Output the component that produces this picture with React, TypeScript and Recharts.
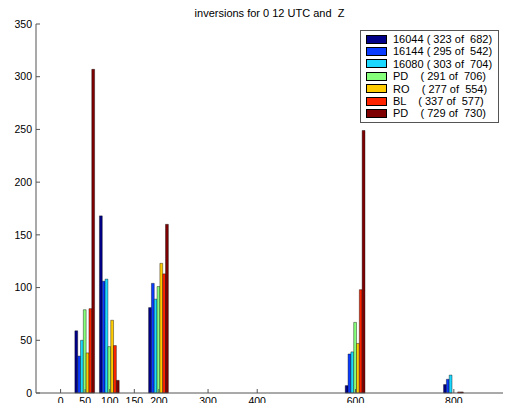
import React from 'react';
import { BarChart, Bar, XAxis, YAxis } from 'recharts';

const positions = [50, 100, 200, 600, 800];
const s16044 = [59, 168, 81, 7, 8];
const s16144 = [35, 106, 104, 37, 13];
const s16080 = [50, 108, 89, 39, 17];
const sPD1 = [79, 44, 101, 67, 0];
const sRO = [38, 69, 123, 47, 0];
const sBL = [80, 45, 113, 98, 1];
const sPD2 = [307, 12, 160, 249, 1];

const seriesNames = [
  '16044 ( 323 of  682)',
  '16144 ( 295 of  542)',
  '16080 ( 303 of  704)',
  'PD    ( 291 of  706)',
  'RO    ( 277 of  554)',
  'BL    ( 337 of  577)',
  'PD    ( 729 of  730)',
];
const seriesColors = ['#000088', '#0a3cff', '#1ad8ff', '#86ff7a', '#ffcc00', '#ff2400', '#7f0000'];
const seriesValues = [s16044, s16144, s16080, sPD1, sRO, sBL, sPD2];

const xTicks = [0, 50, 100, 150, 200, 300, 400, 600, 800];
const yTicks = [0, 50, 100, 150, 200, 250, 300, 350];
const title = 'inversions for 0 12 UTC and  Z';

const data = positions.map((x, i) => {
  const row: Record<string, number> = { x };
  seriesValues.forEach((vals, k) => {
    row['s' + k] = vals[i];
  });
  return row;
});

const font = 'Arial, "Liberation Sans", Helvetica, sans-serif';
const axisColor = '#555';

export default function App() {
  return (
    <div style={{ position: 'fixed', left: 0, top: 0, width: 506, height: 403, background: '#fff', overflow: 'hidden' }}>
      <BarChart
        width={506}
        height={403}
        data={data}
        margin={{ top: 24, right: 3, left: 6, bottom: 0 }}
        barGap={0}
        style={{ fontFamily: font }}
      >
        <XAxis
          dataKey="x"
          type="number"
          domain={[-50, 900]}
          ticks={xTicks}
          interval={0}
          height={10}
          tickSize={-4}
          tickMargin={9}
          stroke={axisColor}
          tick={{ fill: '#000', fontSize: 10.5 }}
        />
        <XAxis
          xAxisId="top"
          orientation="top"
          dataKey="x"
          type="number"
          domain={[-50, 900]}
          ticks={xTicks}
          interval={0}
          height={0}
          tickSize={-4}
          tick={false}
          stroke={axisColor}
        />
        <YAxis
          domain={[0, 350]}
          ticks={yTicks}
          interval={0}
          width={30}
          tickSize={-4}
          tickMargin={8}
          stroke={axisColor}
          tick={{ fill: '#000', fontSize: 10.5 }}
        />
        <YAxis
          yAxisId="right"
          orientation="right"
          domain={[0, 350]}
          ticks={yTicks}
          interval={0}
          width={0}
          tickSize={-4}
          tick={false}
          stroke={axisColor}
        />
        {seriesNames.map((name, k) => (
          <Bar
            key={k}
            dataKey={'s' + k}
            name={name}
            fill={seriesColors[k]}
            stroke="#000"
            strokeWidth={0.4}
            barSize={2.82}
            isAnimationActive={false}
          />
        ))}
      </BarChart>
      <div
        style={{
          position: 'absolute',
          top: 7,
          left: 0,
          width: 539,
          textAlign: 'center',
          fontFamily: font,
          fontSize: 11,
          whiteSpace: 'pre',
          color: '#000',
          lineHeight: '12px',
        }}
      >
        {title}
      </div>
      <div
        style={{
          position: 'absolute',
          left: 360,
          top: 30,
          width: 137,
          height: 91,
          border: '1px solid #555',
          background: '#fff',
          fontFamily: font,
          fontSize: 11,
          color: '#000',
        }}
      >
        {seriesNames.map((name, k) => (
          <div
            key={k}
            style={{
              position: 'absolute',
              left: 5,
              top: 2 + k * 12.4,
              height: 12,
              display: 'flex',
              alignItems: 'center',
              whiteSpace: 'pre',
            }}
          >
            <span
              style={{
                display: 'inline-block',
                width: 19,
                height: 7,
                background: seriesColors[k],
                border: '0.5px solid #000',
                marginRight: 6,
              }}
            />
            <span style={{ lineHeight: '12px' }}>{name}</span>
          </div>
        ))}
      </div>
    </div>
  );
}
